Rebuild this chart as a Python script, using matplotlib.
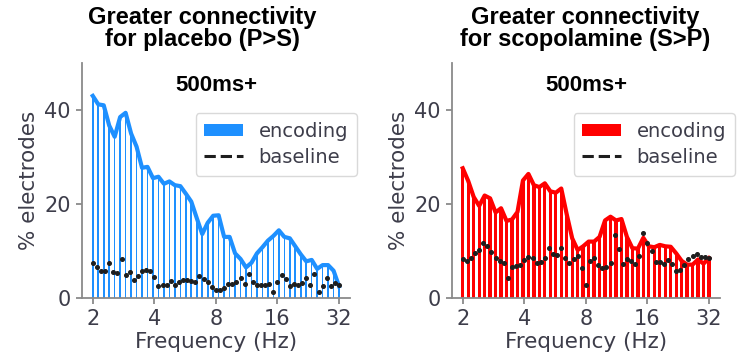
import numpy as np
import matplotlib
matplotlib.use("Agg")
import matplotlib.pyplot as plt
from matplotlib.lines import Line2D

plt.rcParams['font.family'] = ['DejaVu Sans']

# log-spaced wavelet frequencies (Hz)
freqs = np.geomspace(2, 32, 46)
base_freqs = np.geomspace(2, 32, 61)

# % electrodes with greater connectivity, placebo > scopolamine
enc_p = [43.0, 41.2, 41.0, 36.7, 34.3, 38.5, 39.4, 35.0, 32.2, 27.7,
         27.9, 25.5, 25.8, 24.3, 24.8, 24.0, 23.8, 22.2, 20.5, 17.0,
         13.6, 16.0, 17.5, 17.6, 13.0, 13.0, 9.5, 8.3, 6.5, 7.5,
         9.5, 10.8, 12.2, 13.2, 14.4, 13.0, 12.7, 11.0, 9.3, 7.8,
         8.1, 6.2, 7.0, 7.0, 5.8, 2.5]
base_p = [7.5, 6.6, 5.8, 5.7, 7.4, 5.6, 5.4, 8.3, 4.9, 5.5,
          3.9, 4.7, 5.8, 6.0, 5.8, 4.5, 2.6, 2.8, 2.8, 3.7,
          2.8, 3.3, 3.8, 3.8, 3.6, 3.5, 4.6, 4.1, 3.3, 2.4,
          1.6, 1.8, 2.2, 2.9, 3.0, 3.5, 4.2, 2.9, 5.2, 3.3,
          2.8, 2.8, 2.8, 2.9, 1.2, 3.4, 4.8, 4.0, 2.5, 3.0,
          2.7, 3.2, 4.2, 2.8, 5.0, 1.3, 2.6, 4.2, 2.6, 3.1, 2.8]

# % electrodes with greater connectivity, scopolamine > placebo
enc_s = [27.6, 24.9, 21.5, 19.6, 21.8, 21.2, 18.2, 19.1, 16.4, 16.7,
         18.3, 25.0, 26.4, 24.0, 23.6, 24.4, 22.7, 22.4, 23.3, 17.8,
         12.7, 10.2, 11.0, 12.0, 12.0, 13.0, 16.5, 17.3, 16.5, 16.8,
         13.0, 10.6, 10.5, 12.8, 11.0, 10.8, 11.3, 11.0, 10.9, 9.5,
         7.9, 7.1, 7.1, 8.2, 7.3, 8.5]
base_s = [8.3, 7.8, 8.5, 9.5, 10.3, 11.6, 11.0, 9.7, 8.6, 7.9,
          7.4, 4.3, 6.5, 6.8, 7.0, 8.1, 8.7, 8.6, 7.5, 7.6,
          8.5, 10.6, 9.4, 9.1, 10.6, 8.5, 7.5, 8.3, 9.0, 6.4,
          2.8, 7.8, 8.6, 7.1, 6.4, 6.5, 7.5, 13.5, 10.4, 7.2,
          8.3, 7.8, 7.3, 9.0, 13.8, 11.8, 10.0, 7.6, 7.7, 7.2,
          8.1, 7.3, 5.8, 5.9, 7.1, 8.2, 9.0, 9.3, 8.7, 8.8, 8.5]

tick_freqs = [2, 4, 8, 16, 32]
titles = ['Greater connectivity\nfor placebo (P>S)',
          'Greater connectivity\nfor scopolamine (S>P)']

txt = '#3d3d4a'
grey = '#8a8a8a'
bold_font = ['Liberation Sans', 'DejaVu Sans']

fig = plt.figure(figsize=(7.45, 3.62), dpi=100)
ax1 = fig.add_axes([0.1097, 0.1768, 0.3601, 0.6492])
ax2 = fig.add_axes([0.6063, 0.1768, 0.3601, 0.6492])


def draw_panel(ax, enc, base, color, bar_w, title, title_x, leg_anchor):
    f = np.asarray(freqs)
    left = f * 2 ** (-bar_w / 2)
    right = f * 2 ** (bar_w / 2)
    bars = ax.bar(left, enc, width=right - left, align='edge', color=color,
                  linewidth=0, label='encoding')
    ax.plot(freqs, enc, color=color, lw=3, solid_joinstyle='round', zorder=3)
    ax.plot(base_freqs, base, ls='none', marker='o', ms=2.6, color='#1e1e1e',
            zorder=4)
    base_handle = Line2D([], [], color='#1e1e1e', ls='--', lw=2.2)

    ax.set_xscale('log', base=2)
    ax.set_xlim(1.766, 36.2)
    ax.set_ylim(0, 50)
    ax.set_xticks(tick_freqs)
    ax.set_xticklabels([str(t) for t in tick_freqs])
    ax.xaxis.set_minor_locator(matplotlib.ticker.NullLocator())
    ax.set_yticks([0, 20, 40])

    for s in ['top', 'right']:
        ax.spines[s].set_visible(False)
    for s in ['left', 'bottom']:
        ax.spines[s].set_color(grey)
        ax.spines[s].set_linewidth(1.3)
    ax.tick_params(axis='both', colors=grey, labelcolor=txt, labelsize=15,
                   length=4, width=1.3, pad=4)
    ax.set_xlabel('Frequency (Hz)', fontsize=15.5, color=txt, labelpad=2)
    ax.set_ylabel('% electrodes', fontsize=15.5, color=txt, labelpad=4)

    ax.text(title_x, 1.05, title, transform=ax.transAxes, ha='center',
            va='bottom', fontsize=17, fontweight='bold', family=bold_font,
            linespacing=0.95)
    ax.text(0.5, 0.905, '500ms+', transform=ax.transAxes, ha='center',
            va='center', fontsize=16, fontweight='bold', family=bold_font)

    leg = ax.legend([bars, base_handle], ['encoding', 'baseline'],
                    loc='upper right', bbox_to_anchor=leg_anchor,
                    fontsize=14, frameon=True, fancybox=True,
                    handlelength=2.0, handleheight=0.6, borderpad=0.45,
                    labelspacing=0.35, handletextpad=0.8, borderaxespad=0)
    leg.get_frame().set_edgecolor('#d0d0d0')
    leg.get_frame().set_linewidth(1.0)
    for t in leg.get_texts():
        t.set_color(txt)


draw_panel(ax1, enc_p, base_p, '#1E90FF', 0.026, titles[0], 0.45,
           (1.026, 0.786))
draw_panel(ax2, enc_s, base_s, '#FF0000', 0.054, titles[1], 0.497,
           (1.056, 0.786))

fig.savefig('out.png', dpi=100)
